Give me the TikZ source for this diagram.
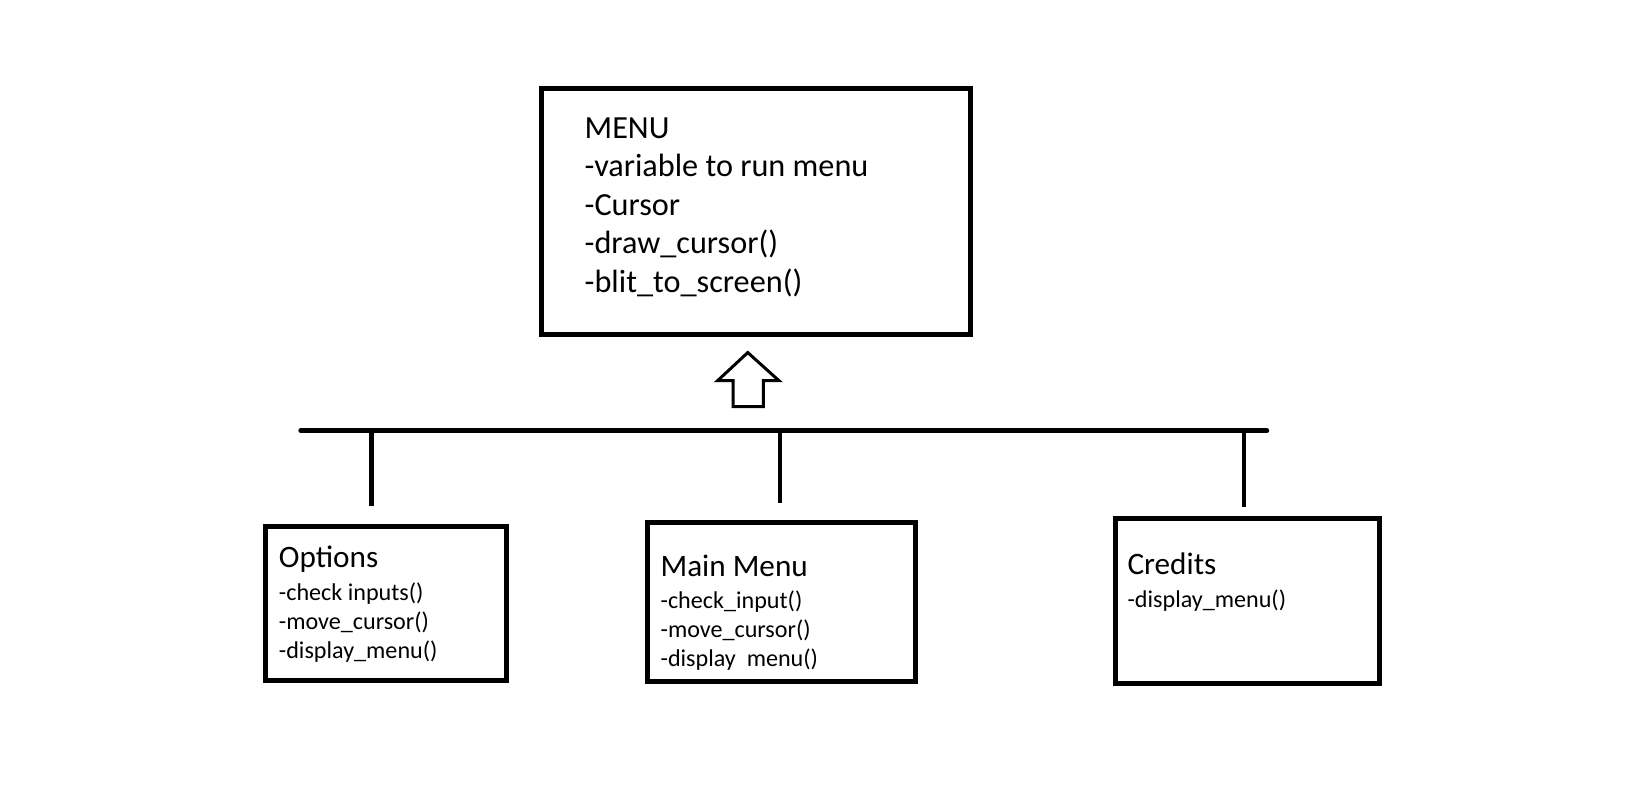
\documentclass[tikz,border=0pt]{standalone}
\usepackage{fontspec}
\setmainfont{Carlito}
\begin{document}
\begin{tikzpicture}[x=1pt,y=-1pt, scale=1.04, transform shape]
\useasboundingbox[fill=white] (0,0) rectangle (1572.1,766.35);
\tikzset{
  box/.style={draw, line width=5pt, rectangle, inner sep=0pt, outer sep=0pt},
  link/.style={line width=4.5pt},
  bigtxt/.style={font=\fontsize{31}{37}\selectfont, anchor=base west, inner sep=0pt},
  headtxt/.style={font=\fontsize{30}{34}\selectfont, anchor=base west, inner sep=0pt},
  itemtxt/.style={font=\fontsize{23.2}{28}\selectfont, anchor=base west, inner sep=0pt}
}
% boxes
\node[box, minimum width=412pt, minimum height=237pt] (menu) at (727,203.5) {};
\node[box, minimum width=232pt, minimum height=148pt] (options) at (371,580) {};
\node[box, minimum width=257pt, minimum height=153pt] (mainmenu) at (751.5,578.5) {};
\node[box, minimum width=253pt, minimum height=158pt] (credits) at (1199.5,578) {};
% MENU text
\node[bigtxt] (m1) at (562,133) {MENU};
\node[bigtxt] (m2) at (562,170) {-variable to run menu};
\node[bigtxt] (m3) at (562,207) {-Cursor};
\node[bigtxt] (m4) at (562,244) {-draw\_cursor()};
\node[bigtxt] (m5) at (562,281) {-blit\_to\_screen()};
% Options text
\node[headtxt] (o1) at (268,546) {Options};
\node[itemtxt] (o2) at (268,577) {-check inputs()};
\node[itemtxt] (o3) at (268,605) {-move\_cursor()};
\node[itemtxt] (o4) at (268,633) {-display\_menu()};
% Main Menu text
\node[headtxt] (mm1) at (635,554) {Main Menu};
\node[itemtxt] (mm2) at (635,585) {-check\_input()};
\node[itemtxt] (mm3) at (635,613) {-move\_cursor()};
\node[itemtxt] (mm4) at (635,641) {-display\ \ menu()};
% Credits text
\node[headtxt] (c1) at (1084,552) {Credits};
\node[itemtxt] (c2) at (1084,584) {-display\_menu()};
% hollow arrow
\draw[line width=3pt, line join=miter]
  (705,391) -- (705,366) -- (690,366) -- (719,339) -- (749,366) -- (734,366) -- (734,391) -- cycle;
% bar and stubs
\coordinate (barL) at (289,414);
\coordinate (barR) at (1218,414);
\coordinate (s1t) at (357,414);
\coordinate (s1b) at (357,486);
\coordinate (s2t) at (750,414);
\coordinate (s2b) at (750,484);
\coordinate (s3t) at (1196,414);
\coordinate (s3b) at (1196,487);
\draw[link, line cap=round] (barL) -- (barR);
\draw[link] (s1t) -- (s1b);
\draw[link] (s2t) -- (s2b);
\draw[link] (s3t) -- (s3b);
\end{tikzpicture}
\end{document}
